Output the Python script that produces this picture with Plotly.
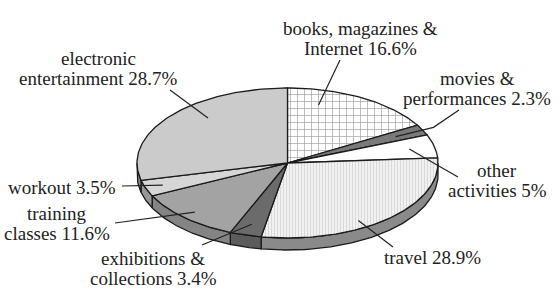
import numpy as np
import plotly.graph_objects as go

# ---- data ----
categories = ["books, magazines &\nInternet", "movies &\nperformances", "other\nactivities",
              "travel", "exhibitions &\ncollections", "training\nclasses", "workout",
              "electronic\nentertainment"]
values = [16.6, 2.3, 5, 28.9, 3.4, 11.6, 3.5, 28.7]

# ---- style ----
top_colors = ["#ffffff", "#7a7a7a", "#ffffff", "#efefef", "#6b6b6b", "#a3a3a3", "#d6d6d6", "#cbcbcb"]
side_colors = ["#8a8a8a", "#6a6a6a", "#8a8a8a", "#8a8a8a", "#5c5c5c", "#848484", "#979797", "#8c8c8c"]
patterns = [dict(shape="+", size=7, solidity=0.18, fgcolor="#3a3a3a", bgcolor="#ffffff"),
            None, None,
            dict(shape="|", size=3, solidity=0.35, fgcolor="#c2c2c2", bgcolor="#f1f1f1"),
            None, None, None, None]
# label placement (centre of first text line) and leader outer points
label_pos = [(360, 28), (477, 78), (497, 170), (432, 257), (153, 258), (57, 213), (62, 187), (98, 58)]
leader_out = [(340, 60), (459, 110), (458, 177), (393, 247), (202, 245), (115, 223), (122, 186), (170, 90)]
leader_frac = [0.25, 0.5, 0.5, 0.6, 0.5, 0.5, 0.5, 0.6]
leader_r = [0.8, 0.8, 0.83, 0.9, 0.85, 0.9, 0.88, 0.8]
elbow_r = [None, 1.08, None, None, None, None, None, None]

cx, cy, rx, ry, depth = 287.5, 163.0, 150.5, 75.0, 12.0
FONT = "Liberation Serif"
LINE = "#1a1a1a"


def pt(theta, r=1.0, dy=0.0):
    t = np.radians(theta)
    return cx + r * rx * np.sin(t), cy - r * ry * np.cos(t) + dy


def arc(a0, a1, dy=0.0):
    n = max(2, int(abs(a1 - a0)) + 2)
    th = np.linspace(a0, a1, n)
    xs, ys = pt(th, 1.0, dy)
    return list(xs), list(ys)


total = sum(values)
cum = np.concatenate([[0], np.cumsum(values)]) / total * 360.0

fig = go.Figure()

# sides (visible for the front half of the disc)
for i in range(len(values)):
    lo, hi = max(cum[i], 90.0), min(cum[i + 1], 270.0)
    if hi <= lo:
        continue
    tx, ty = arc(lo, hi)
    bx, by = arc(hi, lo, depth)
    fig.add_trace(go.Scatter(x=tx + bx + [tx[0]], y=ty + by + [ty[0]], mode="lines",
                             fill="toself", fillcolor=side_colors[i],
                             line=dict(color=LINE, width=1.3), hoverinfo="skip", showlegend=False))

# tops
for i in range(len(values)):
    ax_, ay_ = arc(cum[i], cum[i + 1])
    kw = {}
    if patterns[i] is not None:
        kw["fillpattern"] = patterns[i]
    fig.add_trace(go.Scatter(x=[cx] + ax_ + [cx], y=[cy] + ay_ + [cy], mode="lines",
                             fill="toself", fillcolor=top_colors[i],
                             line=dict(color=LINE, width=1.3), hoverinfo="skip",
                             showlegend=False, **kw))

# leaders and labels
for i, (cat, v) in enumerate(zip(categories, values)):
    a = cum[i] + leader_frac[i] * (cum[i + 1] - cum[i])
    ix, iy = pt(a, leader_r[i])
    xs, ys = [leader_out[i][0]], [leader_out[i][1]]
    if elbow_r[i] is not None:
        ex, ey = pt(a, elbow_r[i])
        xs.append(ex); ys.append(ey)
    xs.append(ix); ys.append(iy)
    fig.add_trace(go.Scatter(x=xs, y=ys, mode="lines", line=dict(color="#222222", width=1.2),
                             hoverinfo="skip", showlegend=False))
    lines = f"{cat} {v:g}%".split("\n")
    for k, ln in enumerate(lines):
        fig.add_annotation(x=label_pos[i][0], y=label_pos[i][1] + 20 * k, text=ln,
                           showarrow=False, xanchor="center", yanchor="middle",
                           font=dict(family=FONT, size=19, color="#222222"))

fig.update_layout(
    width=560, height=300, margin=dict(l=0, r=0, t=0, b=0),
    paper_bgcolor="white", plot_bgcolor="white",
    xaxis=dict(range=[0, 560], visible=False, fixedrange=True),
    yaxis=dict(range=[300, 0], visible=False, fixedrange=True),
)
fig.write_html("out.html")
